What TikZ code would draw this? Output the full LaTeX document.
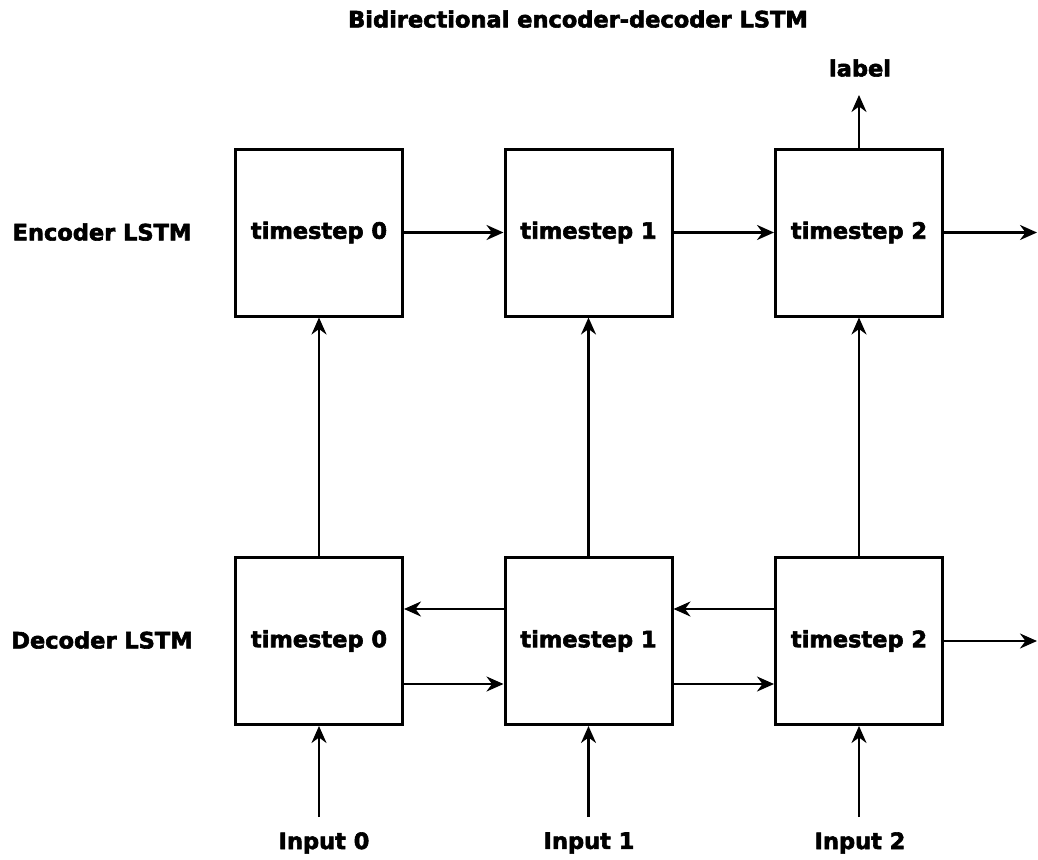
\documentclass[tikz,border=0pt]{standalone}
\usepackage{fontspec}
\setmainfont{DejaVu Sans}[BoldFeatures={FakeBold=2.6}]
\usetikzlibrary{arrows.meta}
\begin{document}
\begin{tikzpicture}[x=1pt,y=-1pt,
  every node/.style={font=\bfseries\fontsize{22.5}{26}\selectfont},
  cell/.style={draw, line width=3pt, minimum width=167pt, minimum height=167pt, inner sep=0pt},
  link/.style={line width=2.3pt, -{Stealth[length=17pt,width=15pt,inset=5.5pt]}}]
\useasboundingbox (0,0) rectangle (1038,859);

% title and row captions
\node (title) at (578,19) {Bidirectional encoder-decoder LSTM};
\node (enc) at (102,232) {Encoder LSTM};
\node (dec) at (102,640) {Decoder LSTM};

% encoder row
\node[cell] (e0) at (319,232.5) {timestep 0};
\node[cell] (e1) at (588.5,232.5) {timestep 1};
\node[cell] (e2) at (859,232.5) {timestep 2};

% decoder row
\node[cell] (d0) at (319,641) {timestep 0};
\node[cell] (d1) at (588.5,641) {timestep 1};
\node[cell] (d2) at (859,641) {timestep 2};

% output label and inputs
\node (lbl) at (860,68) {label};
\coordinate (lblend) at (859,95);
\node (in0) at (324,843) {Input 0};
\node (in1) at (589,843) {Input 1};
\node (in2) at (860,843) {Input 2};
\coordinate (s0) at (319,817);
\coordinate (s1) at (588.5,817);
\coordinate (s2) at (859,817);
\coordinate (eout) at (1037,232.5);
\coordinate (dout) at (1037,641);

% encoder forward chain
\draw[link] (e0.east) -- (e1.west);
\draw[link] (e1.east) -- (e2.west);
\draw[link] (e2.east) -- (eout);
\draw[link] (e2.north) -- (lblend);

% decoder to encoder
\draw[link] (d0.north) -- (e0.south);
\draw[link] (d1.north) -- (e1.south);
\draw[link] (d2.north) -- (e2.south);

% decoder backward and forward chains
\draw[link] (d1.west |- 0,609) -- (d0.east |- 0,609);
\draw[link] (d2.west |- 0,609) -- (d1.east |- 0,609);
\draw[link] (d0.east |- 0,684) -- (d1.west |- 0,684);
\draw[link] (d1.east |- 0,684) -- (d2.west |- 0,684);
\draw[link] (d2.east) -- (dout);

% inputs
\draw[link] (s0) -- (d0.south);
\draw[link] (s1) -- (d1.south);
\draw[link] (s2) -- (d2.south);
\end{tikzpicture}
\end{document}
